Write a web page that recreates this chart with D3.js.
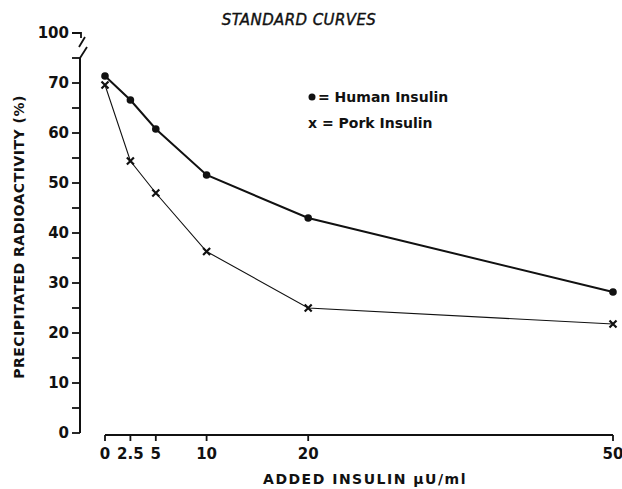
<!DOCTYPE html>
<html><head><meta charset="utf-8">
<script src="https://cdn.jsdelivr.net/npm/d3@7"></script>
<style>
body{margin:0;background:#fff;}
text{font-family:"DejaVu Sans",sans-serif;fill:#111;font-weight:bold;}
</style></head>
<body>
<svg id="c" width="622" height="489"></svg>
<script>
const doses = [0, 2.5, 5, 10, 20, 50];
const humanInsulin = [71.4, 66.6, 60.8, 51.6, 43.0, 28.2];
const porkInsulin = [69.6, 54.4, 48.0, 36.3, 25.0, 21.8];
const xTickLabels = ["0", "2.5", "5", "10", "20", "50"];
const yTickValues = [0, 10, 20, 30, 40, 50, 60, 70];
const yMinorTicks = [5, 15, 25, 35, 45, 55, 65, 75];

const svg = d3.select("#c");
const x = d3.scaleLinear().domain([0, 50]).range([105, 613]);
const y = d3.scaleLinear().domain([0, 70]).range([433, 83]);
const axisX = 80;
const axisYpos = 435;

// Y axis line
const gy = svg.append("g");
gy.append("line").attr("x1", axisX).attr("x2", axisX).attr("y1", y(0)).attr("y2", y(75))
  .attr("stroke", "#111").attr("stroke-width", 2);
gy.selectAll("line.maj").data(yTickValues.concat(yMinorTicks)).join("line")
  .attr("class","maj").attr("x1", axisX - 8).attr("x2", axisX).attr("y1", d => y(d)).attr("y2", d => y(d))
  .attr("stroke", "#111").attr("stroke-width", 1.8);
gy.selectAll("text").data(yTickValues).join("text")
  .attr("x", axisX - 11).attr("y", d => y(d)).attr("dy", "0.36em")
  .attr("text-anchor", "end").attr("font-size", 15)
  .text(d => d);
// break and 100 label
gy.append("path").attr("d", `M${axisX-8},33 H${axisX+1} V38`).attr("fill","none").attr("stroke","#111").attr("stroke-width",1.8);
gy.append("path").attr("d", `M${axisX+5},37 L${axisX-1},47 M${axisX+7},47 L${axisX},${y(75)}`).attr("fill","none").attr("stroke","#111").attr("stroke-width",1.8);
gy.append("text").attr("x", axisX - 11).attr("y", 33).attr("dy","0.36em").attr("text-anchor","end")
  .attr("font-size",15).text("100");

// X axis
const gx = svg.append("g");
gx.append("line").attr("x1", x(0)).attr("x2", x(50)).attr("y1", axisYpos).attr("y2", axisYpos)
  .attr("stroke","#111").attr("stroke-width",2);
gx.selectAll("line.t").data(doses).join("line").attr("class","t")
  .attr("x1", d => x(d)).attr("x2", d => x(d)).attr("y1", axisYpos).attr("y2", axisYpos + 6)
  .attr("stroke","#111").attr("stroke-width",1.8);
gx.selectAll("text").data(doses).join("text")
  .attr("x", d => x(d)).attr("y", 459).attr("text-anchor","middle")
  .attr("font-size",15)
  .text((d,i) => xTickLabels[i]);

// Axis titles
svg.append("text").attr("x", 365).attr("y", 484).attr("text-anchor","middle")
  .attr("font-size",14).attr("letter-spacing","1.5px")
  .text("ADDED INSULIN μU/ml");
svg.append("text").attr("transform","translate(24,237) rotate(-90)").attr("text-anchor","middle")
  .attr("font-size",14).attr("letter-spacing","0.5px")
  .text("PRECIPITATED RADIOACTIVITY (%)");
svg.append("text").attr("x", 299).attr("y", 25).attr("text-anchor","middle")
  .attr("font-size",15).style("font-style","italic").style("font-weight","normal").attr("letter-spacing","0.4px")
  .attr("stroke","#111").attr("stroke-width",0.4)
  .text("STANDARD CURVES");

// Lines
const line = d3.line().x((d,i) => x(doses[i])).y(d => y(d));
svg.append("path").attr("d", line(humanInsulin)).attr("fill","none").attr("stroke","#111").attr("stroke-width",2);
svg.append("path").attr("d", line(porkInsulin)).attr("fill","none").attr("stroke","#111").attr("stroke-width",1.1);

svg.selectAll("circle.h").data(humanInsulin).join("circle").attr("class","h")
  .attr("cx",(d,i)=>x(doses[i])).attr("cy", d=>y(d)).attr("r",3.8).attr("fill","#111");

const s = 3.5;
svg.selectAll("path.p").data(porkInsulin).join("path").attr("class","p")
  .attr("d",(d,i)=>{const cx=x(doses[i]),cy=y(d);return `M${cx-s},${cy-s}L${cx+s},${cy+s}M${cx+s},${cy-s}L${cx-s},${cy+s}`;})
  .attr("stroke","#111").attr("stroke-width",2.2).attr("fill","none");

// Legend
const lg = svg.append("g");
lg.append("circle").attr("cx",312).attr("cy",97).attr("r",3.5).attr("fill","#111");
lg.append("text").attr("x",318).attr("y",97).attr("dy","0.36em").attr("font-size",14).text("= Human Insulin");
lg.append("text").attr("x",308).attr("y",123).attr("dy","0.36em").attr("font-size",14).text("x = Pork Insulin");
</script>
</body></html>
